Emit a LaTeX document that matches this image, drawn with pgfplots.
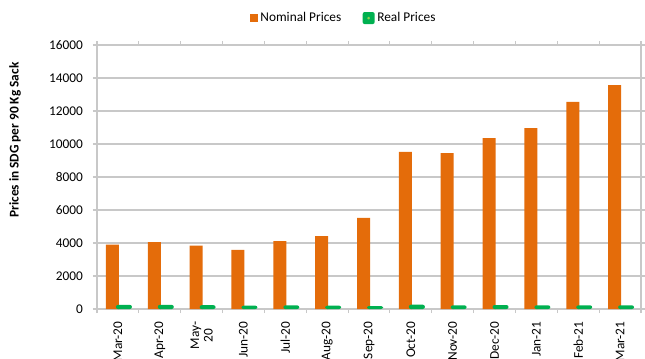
\documentclass[border=0pt]{standalone}
\usepackage{pgfplots}
\pgfplotsset{compat=1.18}
\usepackage{fontspec}
\setmainfont{Carlito}
\definecolor{nomc}{HTML}{E46C0A}
\definecolor{realc}{HTML}{00B050}
\definecolor{dotc}{HTML}{92D050}
\definecolor{gridc}{HTML}{C8C8C8}
\begin{document}
\begin{tikzpicture}
\path[use as bounding box, clip] (-72.75pt,-36.75pt) rectangle (411pt,231.75pt);
\begin{axis}[
  at={(0,0)}, anchor=south west,
  scale only axis, width=408pt, height=198pt,
  xmin=-0.5, xmax=12.5, ymin=0, ymax=16000,
  ytick={0,2000,...,16000},
  scaled y ticks=false,
  xtick={0,...,12},
  xticklabels={Mar-20,Apr-20,{May-\\20},Jun-20,Jul-20,Aug-20,Sep-20,Oct-20,Nov-20,Dec-20,Jan-21,Feb-21,Mar-21},
  minor xtick={-0.5,0.5,...,12.5},
  x tick style={draw=none},
  minor x tick style={draw=gridc, line width=0.8pt},
  y tick style={draw=gridc, line width=0.8pt},
  tick align=outside,
  major tick length=3pt, minor tick length=3pt,
  xticklabel style={rotate=90, anchor=east, align=center, font=\fontsize{10}{10}\selectfont, xshift=-3pt},
  yticklabel style={font=\fontsize{10}{12}\selectfont, xshift=-4pt},
  /pgf/number format/assume math mode=true,
  /pgf/number format/1000 sep={},
  ymajorgrids, grid style={gridc, line width=0.8pt},
  axis line style={gridc, line width=0.8pt},
  ylabel={\bfseries Prices in SDG per 90 Kg Sack},
  every axis y label/.style={at={(axis description cs:0,0.64)}, rotate=90, anchor=center, yshift=61.5pt, font=\fontsize{10}{12}\selectfont},
  legend style={at={(axis description cs:0.454,1.102)}, anchor=center, draw=none, fill=none, font=\fontsize{10}{12}\selectfont, legend columns=2, /tikz/every even column/.append style={column sep=14pt}},
  clip=false,
]
\addplot[ybar, bar width=9.75pt, bar shift=-4.1pt, fill=nomc, draw=none,
  legend image code/.code={\fill[nomc] (0pt,-3pt) rectangle (6pt,3pt);}]
coordinates {(0,3900) (1,4050) (2,3840) (3,3580) (4,4120) (5,4420) (6,5520) (7,9520) (8,9450) (9,10360) (10,10970) (11,12550) (12,13570)};
\addlegendentry{Nominal Prices}
\addplot[ybar, bar width=12pt, bar shift=4.5pt, fill=realc, draw=none, rounded corners=1.5pt,
  legend image code/.code={\fill[realc, rounded corners=1.5pt] (0pt,-4.5pt) rectangle (9pt,4.5pt); \fill[dotc] (3.6pt,-0.9pt) rectangle (5.4pt,0.9pt);}]
coordinates {(0,250) (1,250) (2,230) (3,200) (4,220) (5,200) (6,180) (7,260) (8,220) (9,240) (10,220) (11,220) (12,220)};
\addlegendentry{Real Prices}
\end{axis}
\end{tikzpicture}
\end{document}
